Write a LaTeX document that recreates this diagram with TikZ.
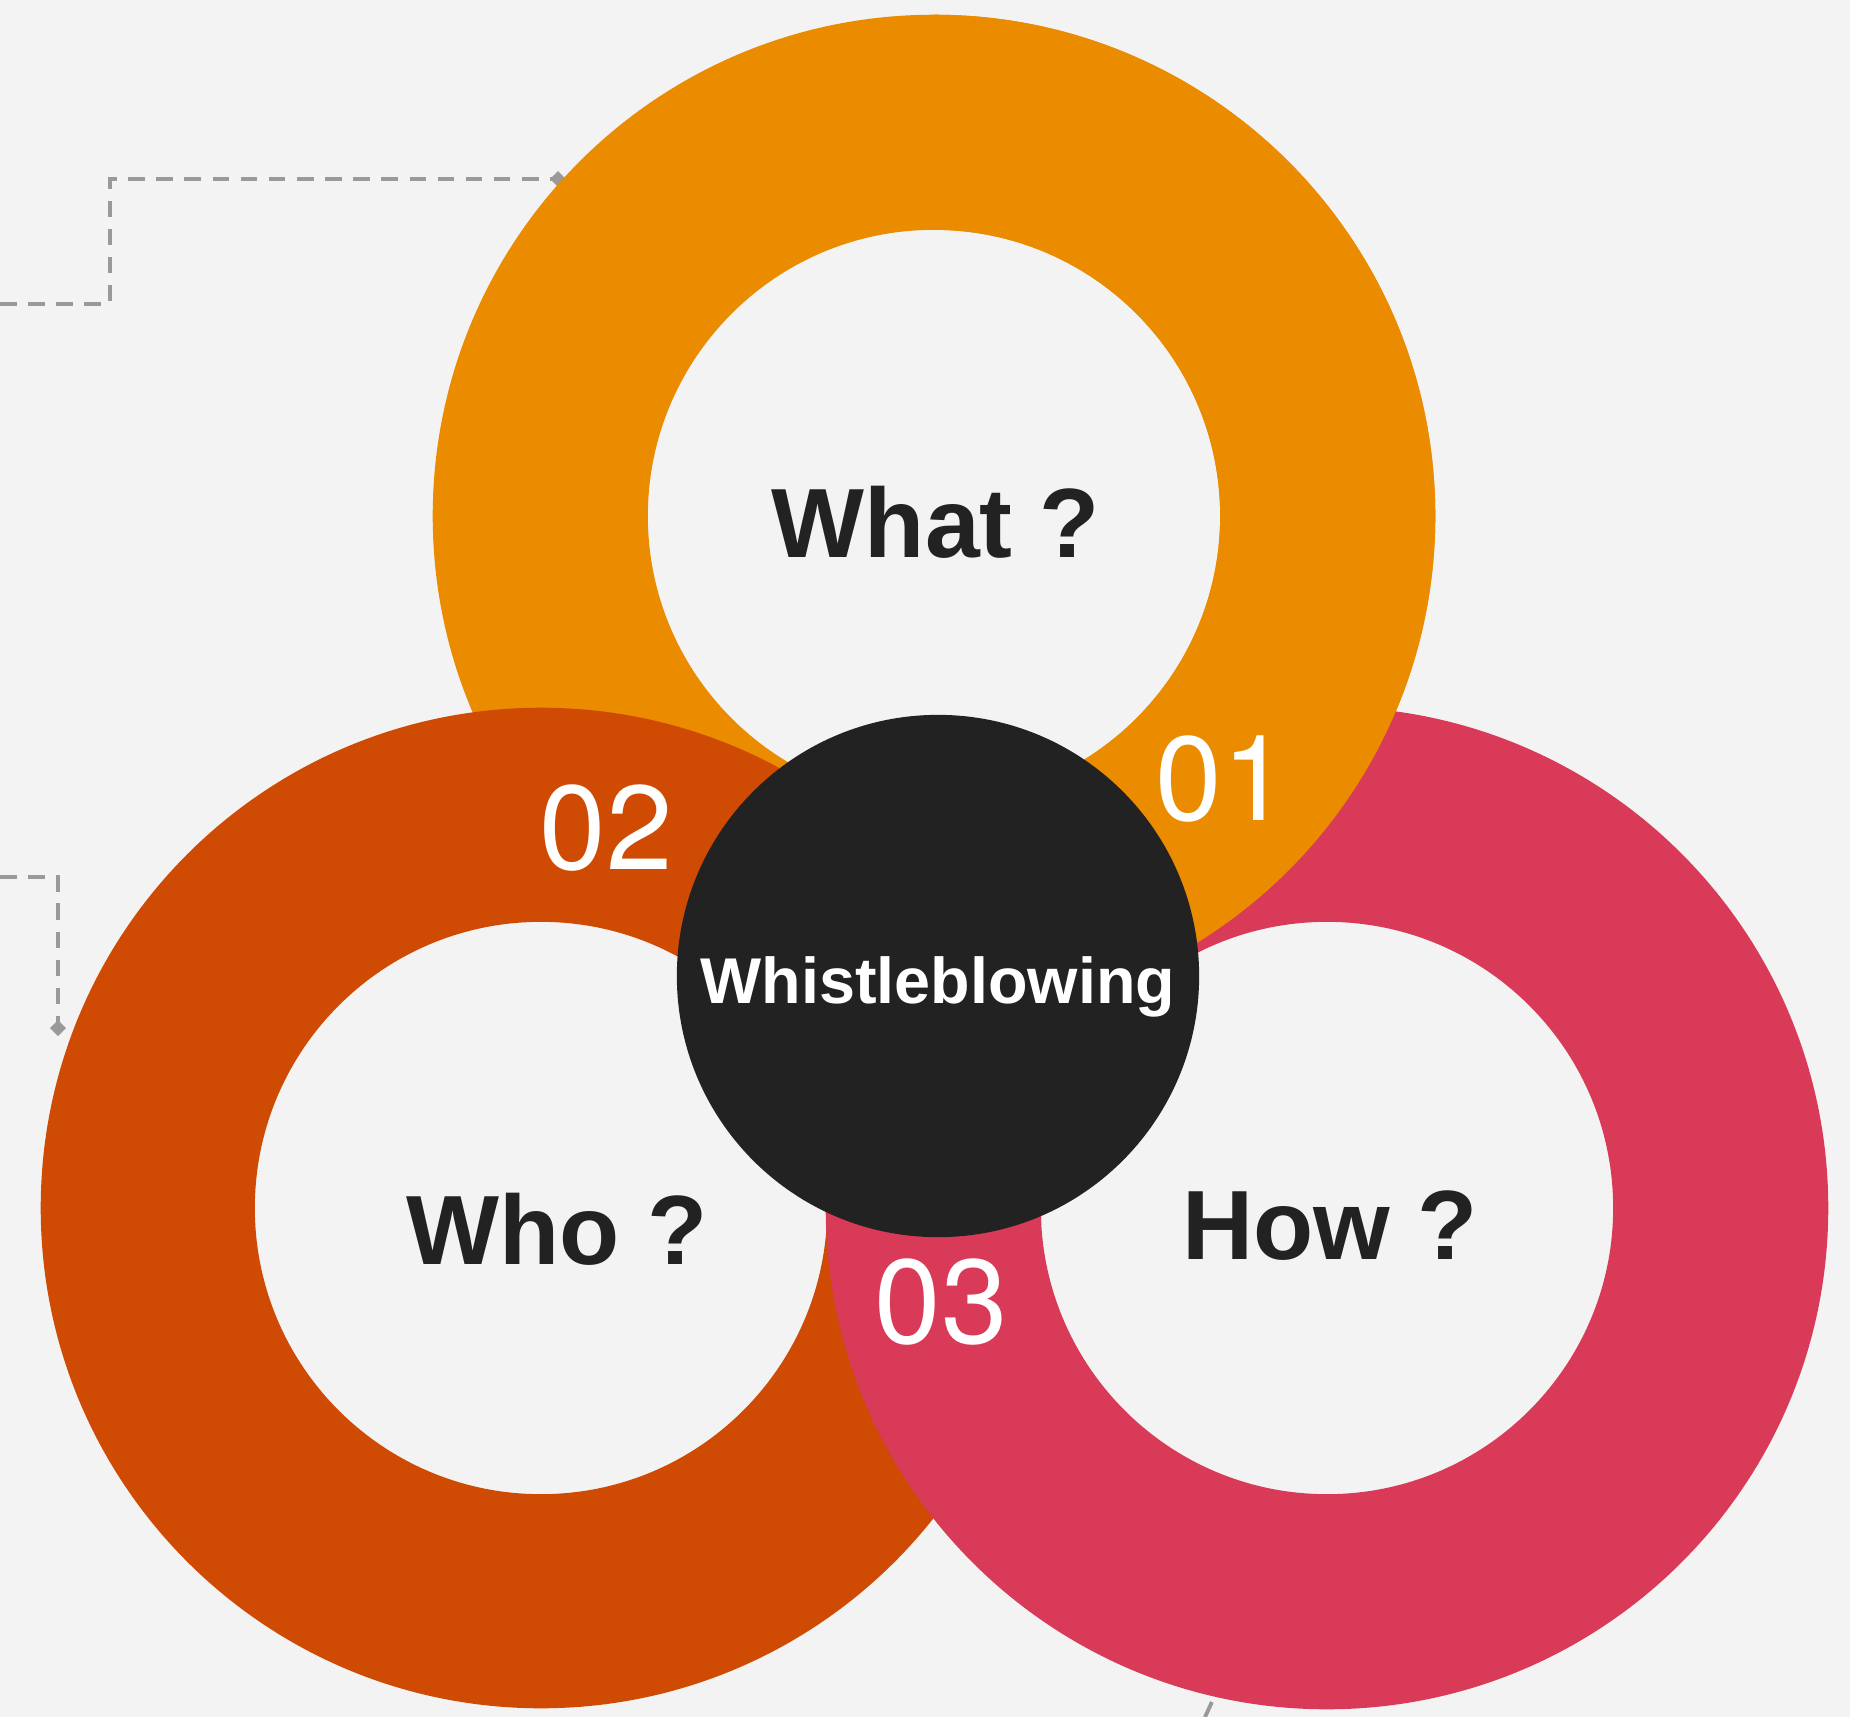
\documentclass[tikz,border=0pt]{standalone}
\usepackage{fontspec}
\setmainfont{Liberation Sans}
\newfontfamily\digitfont{TeX Gyre Heros}
\usepackage{tikz}
\usetikzlibrary{arrows.meta}
\definecolor{bgcol}{HTML}{F3F3F3}
\definecolor{whatcol}{HTML}{EA8B00}
\definecolor{whocol}{HTML}{CF4A02}
\definecolor{howcol}{HTML}{D93A57}
\definecolor{hubcol}{HTML}{222222}
\definecolor{linkcol}{HTML}{999999}

\begin{document}
\begin{tikzpicture}[x=0.01cm,y=-0.01cm,
  ring/.style={even odd rule},
  qtext/.style={anchor=base,text=hubcol,font=\bfseries\fontsize{28}{30}\selectfont},
  num/.style={anchor=base,text=white,font=\digitfont\fontsize{34}{36}\selectfont},
  link/.style={draw=linkcol,line width=1.1pt,dash pattern=on 4.7pt off 3.3pt,-{Diamond[length=4.5pt,width=4.5pt]}}]
\fill [bgcol] (0,0) rectangle (1850,1717);
\useasboundingbox (0,0) rectangle (1850,1717);

\coordinate (what) at (934,516);
\coordinate (who) at (541,1208);
\coordinate (how) at (1327,1208);

% dashed links, behind the rings
\coordinate (in1) at (0,304);
\coordinate (b1) at (110,304);
\coordinate (b2) at (110,179);
\coordinate (tip1) at (566,179);
\draw [link] (in1) -- (b1) -- (b2) -- (tip1);
\coordinate (in2) at (0,877);
\coordinate (b3) at (58,877);
\coordinate (tip2) at (58,1036);
\draw [link] (in2) -- (b3) -- (tip2);
\coordinate (in3) at (1205,1717);
\coordinate (tip3) at (1222,1680);
\draw [link] (in3) -- (tip3);

% rings
\fill [whatcol, ring] (what) circle (5.01cm) (what) circle (2.86cm);
\fill [whocol, ring] (who) circle (5.00cm) (who) circle (2.86cm);
\fill [howcol, ring] (how) circle (5.01cm) (how) circle (2.86cm);
\begin{scope}
\clip (934,0) rectangle (1850,1000);
\fill [whatcol, ring] (what) circle (5.01cm) (what) circle (2.86cm);
\end{scope}

\node [qtext] (whatq) at (936,557) {What ?};
\node [qtext] (whoq) at (557,1264) {Who ?};
\node [qtext] (howq) at (1330,1259) {How ?};
\node [num] (n1) at (1222,820) {01};
\node [num] (n2) at (606,869) {02};
\node [num] (n3) at (941,1343) {03};

\node [circle, fill=hubcol, minimum size=5.22cm, inner sep=0pt] (hub) at (938,976) {};
\node [anchor=base, text=white, font=\bfseries\fontsize{18.4}{20}\selectfont] (hubq) at (938,1003) {Whistleblowing};
\end{tikzpicture}
\end{document}
